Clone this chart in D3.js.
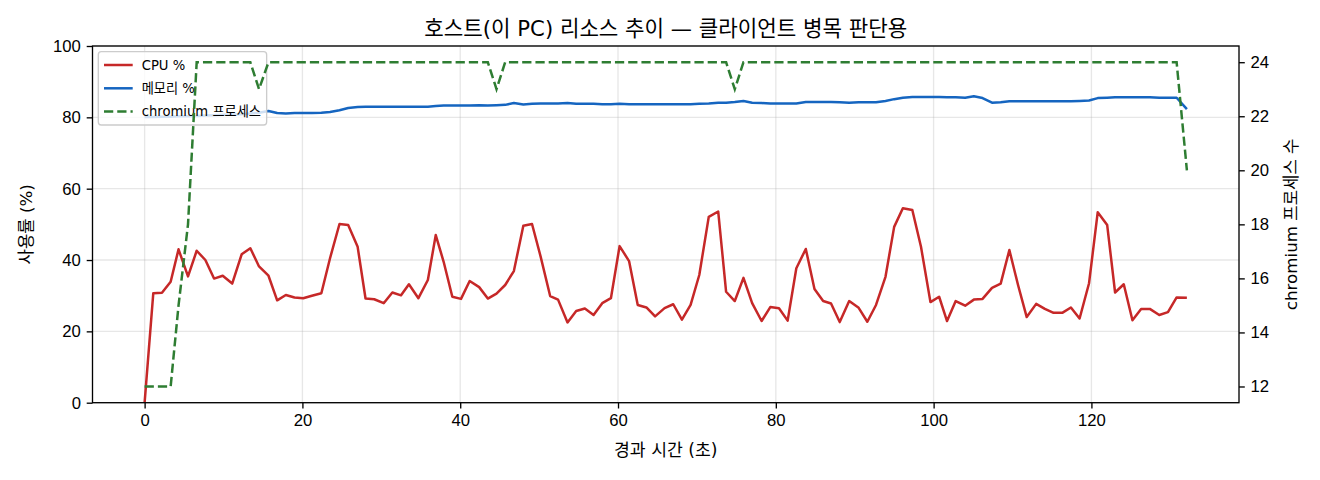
<!DOCTYPE html>
<html>
<head>
<meta charset="utf-8">
<script src="https://cdn.jsdelivr.net/npm/d3@7"></script>
<style>
  body { margin: 0; background: #fff; }
  svg { display: block; font-family: "DejaVu Sans", "Noto Sans CJK KR", sans-serif; }
  .tick text { font-size: 16.7px; fill: #000; }
</style>
</head>
<body>
<svg width="1320" height="480"></svg>
<script>
// host resource trend: cpu / memory on the left axis, chromium process count on the right

var times = [0,1.1,2.2,3.3,4.3,5.5,6.6,7.7,8.8,9.9,
  11.1,12.3,13.4,14.5,15.7,16.8,17.9,19.0,20.1,21.2,
  22.4,23.5,24.7,25.8,27.0,28.0,29.1,30.3,31.4,32.5,
  33.5,34.7,35.9,36.9,37.9,39.0,40.1,41.2,42.4,43.5,
  44.6,45.7,46.8,48.0,49.1,50.2,51.4,52.4,53.6,54.7,
  55.8,56.9,58.0,59.1,60.2,61.4,62.5,63.6,64.7,65.9,
  67.0,68.1,69.2,70.3,71.5,72.7,73.7,74.8,75.9,77.0,
  78.2,79.3,80.4,81.5,82.6,83.8,84.9,86.0,87.0,88.1,
  89.3,90.5,91.6,92.7,93.9,95.0,96.1,97.3,98.4,99.6,
  100.7,101.7,102.8,104.0,105.1,106.2,107.4,108.5,109.6,110.7,
  111.8,113.0,114.1,115.2,116.3,117.4,118.5,119.7,120.8,122.0,
  123.0,124.1,125.2,126.3,127.4,128.6,129.7,130.8,132.1];

var cpu = [0,30.7,30.8,33.9,43.0,35.4,42.6,40.0,34.8,35.6,
  33.4,41.6,43.3,38.2,35.6,28.7,30.2,29.5,29.3,30.0,
  30.7,40.5,50.1,49.8,43.7,29.2,29.0,27.9,30.9,30.1,
  33.2,29.3,34.4,47.0,39.5,29.7,29.1,34.1,32.4,29.2,
  30.6,33.0,36.9,49.6,50.1,40.9,29.9,28.9,22.5,25.7,
  26.4,24.6,27.9,29.3,43.9,39.7,27.4,26.7,24.2,26.5,
  27.6,23.3,27.4,35.8,52.1,53.6,31.1,28.5,35.0,27.9,
  22.9,26.8,26.5,23.0,37.7,43.1,31.9,28.5,27.8,22.6,
  28.5,26.6,22.7,27.4,35.3,49.3,54.5,54.0,43.7,28.2,
  29.7,22.9,28.5,27.2,28.9,29.1,32.2,33.4,42.8,33.0,
  24.0,27.7,26.3,25.2,25.2,26.7,23.6,33.5,53.4,49.8,
  30.9,33.2,23.1,26.3,26.3,24.6,25.4,29.5,29.4];

var memory = [80.1,80.1,80.2,80.2,80.3,80.3,80.4,80.5,80.6,80.7,
  80.8,80.9,81.1,81.3,81.8,81.2,81.1,81.2,81.2,81.2,
  81.3,81.5,82.0,82.6,82.9,83.0,83.0,83.0,83.0,83.0,
  83.0,83.0,83.0,83.2,83.3,83.3,83.3,83.3,83.4,83.3,
  83.4,83.5,84.0,83.6,83.8,83.9,83.9,83.9,84.0,83.8,
  83.8,83.8,83.7,83.7,83.8,83.7,83.7,83.7,83.7,83.7,
  83.7,83.7,83.7,83.8,83.9,84.1,84.1,84.3,84.6,84.1,
  84.0,83.9,83.9,83.9,83.9,84.3,84.3,84.3,84.3,84.2,
  84.1,84.2,84.2,84.2,84.6,85.1,85.5,85.7,85.7,85.7,
  85.7,85.6,85.6,85.5,85.9,85.4,84.1,84.2,84.5,84.5,
  84.5,84.5,84.5,84.5,84.5,84.5,84.6,84.7,85.4,85.5,
  85.6,85.6,85.6,85.6,85.6,85.5,85.5,85.5,82.3];

var procs = [12,12,12,12,15,18,24,24,24,24,
  24,24,24,23,24,24,24,24,24,24,
  24,24,24,24,24,24,24,24,24,24,
  24,24,24,24,24,24,24,24,24,24,
  23,24,24,24,24,24,24,24,24,24,
  24,24,24,24,24,24,24,24,24,24,
  24,24,24,24,24,24,24,23,24,24,
  24,24,24,24,24,24,24,24,24,24,
  24,24,24,24,24,24,24,24,24,24,
  24,24,24,24,24,24,24,24,24,24,
  24,24,24,24,24,24,24,24,24,24,
  24,24,24,24,24,24,24,24,20];

var xTicks = [0,20,40,60,80,100,120];
var yLeftTicks = [0,20,40,60,80,100];
var yRightTicks = [12,14,16,18,20,22,24];

var titleText = "호스트(이 PC) 리소스 추이 — 클라이언트 병목 판단용";
var xLabel = "경과 시간 (초)";
var yLeftLabel = "사용률 (%)";
var yRightLabel = "chromium 프로세스 수";
var legendNames = ["CPU %", "메모리 %", "chromium 프로세스"];

var colors = { cpu: "#c62828", mem: "#1565c0", proc: "#2e7d32" };

// plot box in pixels (window.top is reserved, so no bare "top")
var plotL = 92.5, plotR = 1239, plotT = 46, plotB = 402.7;
var tickLen = 5.8, tickPad = 5.8;

// matplotlib style 5% x margin
var tMax = d3.max(times);
var x = d3.scaleLinear().domain([-0.05 * tMax, tMax * 1.05]).range([plotL, plotR]);
var yL = d3.scaleLinear().domain([0, 100]).range([plotB, plotT]);
var yR = d3.scaleLinear().domain([11.4, 24.6]).range([plotB, plotT]);

var svg = d3.select("svg");

// grid
var grid = svg.append("g").attr("stroke", "#b0b0b0").attr("stroke-opacity", 0.3).attr("stroke-width", 1.33);
grid.selectAll(".gx").data(xTicks).enter().append("line")
  .attr("x1", function(d) { return x(d); }).attr("x2", function(d) { return x(d); })
  .attr("y1", plotT).attr("y2", plotB);
grid.selectAll(".gy").data(yLeftTicks).enter().append("line")
  .attr("x1", plotL).attr("x2", plotR)
  .attr("y1", function(d) { return yL(d); }).attr("y2", function(d) { return yL(d); });

svg.append("clipPath").attr("id", "clip").append("rect")
  .attr("x", plotL).attr("y", plotT).attr("width", plotR - plotL).attr("height", plotB - plotT);

function lineFor(values, yScale) {
  return d3.line()
    .x(function(d, i) { return x(times[i]); })
    .y(function(d) { return yScale(d); })(values);
}

svg.append("path").attr("d", lineFor(cpu, yL))
  .attr("fill", "none").attr("stroke", colors.cpu).attr("stroke-width", 2.5)
  .attr("stroke-linejoin", "round").attr("clip-path", "url(#clip)");
svg.append("path").attr("d", lineFor(memory, yL))
  .attr("fill", "none").attr("stroke", colors.mem).attr("stroke-width", 2.5)
  .attr("stroke-linejoin", "round").attr("clip-path", "url(#clip)");

// legend (belongs to the left axes, so the twin line is drawn over it)
var lg = svg.append("g");
var lgBox = lg.append("rect").attr("x", 98.3).attr("y", 51.7).attr("width", 164.4).attr("height", 73.3)
  .attr("rx", 3).attr("fill", "#fff").attr("fill-opacity", 0.8)
  .attr("stroke", "#cccccc").attr("stroke-width", 1.33);
var legendStyles = [
  { c: colors.cpu, dash: null },
  { c: colors.mem, dash: null },
  { c: colors.proc, dash: "9.25,4" }
];
var textEnd = 0;
legendNames.forEach(function(name, i) {
  var ly = 65 + i * 23.3;
  lg.append("line").attr("x1", 104).attr("x2", 132.7).attr("y1", ly).attr("y2", ly)
    .attr("stroke", legendStyles[i].c).attr("stroke-width", 2.5)
    .attr("stroke-dasharray", legendStyles[i].dash);
  var t = lg.append("text").attr("x", 141.7).attr("y", ly).attr("dy", "0.36em")
    .attr("font-size", 13.2).attr("fill", "#000").text(name);
  textEnd = Math.max(textEnd, 141.7 + t.node().getComputedTextLength());
});
// box grows to fit the longest label, like matplotlib does
lgBox.attr("width", Math.max(164.4, textEnd + 5.7 - 98.3));

// twin axis line
svg.append("path").attr("d", lineFor(procs, yR))
  .attr("fill", "none").attr("stroke", colors.proc).attr("stroke-width", 2.5)
  .attr("stroke-dasharray", "9.25,4").attr("clip-path", "url(#clip)");

// frame
svg.append("rect").attr("x", plotL).attr("y", plotT).attr("width", plotR - plotL).attr("height", plotB - plotT)
  .attr("fill", "none").attr("stroke", "#000").attr("stroke-width", 1.33);

// axes
var ax = svg.append("g").attr("transform", "translate(0," + plotB + ")")
  .call(d3.axisBottom(x).tickValues(xTicks).tickSize(tickLen).tickPadding(tickPad).tickFormat(d3.format("d")));
var ayl = svg.append("g").attr("transform", "translate(" + plotL + ",0)")
  .call(d3.axisLeft(yL).tickValues(yLeftTicks).tickSize(tickLen).tickPadding(tickPad).tickFormat(d3.format("d")));
var ayr = svg.append("g").attr("transform", "translate(" + plotR + ",0)")
  .call(d3.axisRight(yR).tickValues(yRightTicks).tickSize(tickLen).tickPadding(tickPad).tickFormat(d3.format("d")));
[ax, ayl, ayr].forEach(function(g) {
  g.select(".domain").remove();
  g.selectAll(".tick line").attr("stroke", "#000").attr("stroke-width", 1.33);
  g.selectAll(".tick text").attr("font-family", null).attr("font-size", null);
});

// texts
svg.append("text").attr("x", (plotL + plotR) / 2).attr("y", 36).attr("text-anchor", "middle")
  .attr("font-size", 21.2).attr("fill", "#000").text(titleText);
svg.append("text").attr("x", (plotL + plotR) / 2).attr("y", 456).attr("text-anchor", "middle")
  .attr("font-size", 17.2).attr("fill", "#000").text(xLabel);
svg.append("text").attr("transform", "translate(32," + (plotT + plotB) / 2 + ") rotate(-90)")
  .attr("text-anchor", "middle").attr("font-size", 16.7).attr("fill", "#000").text(yLeftLabel);
svg.append("text").attr("transform", "translate(1297," + (plotT + plotB) / 2 + ") rotate(-90)")
  .attr("text-anchor", "middle").attr("font-size", 16.7).attr("fill", "#000").text(yRightLabel);
</script>
</body>
</html>
